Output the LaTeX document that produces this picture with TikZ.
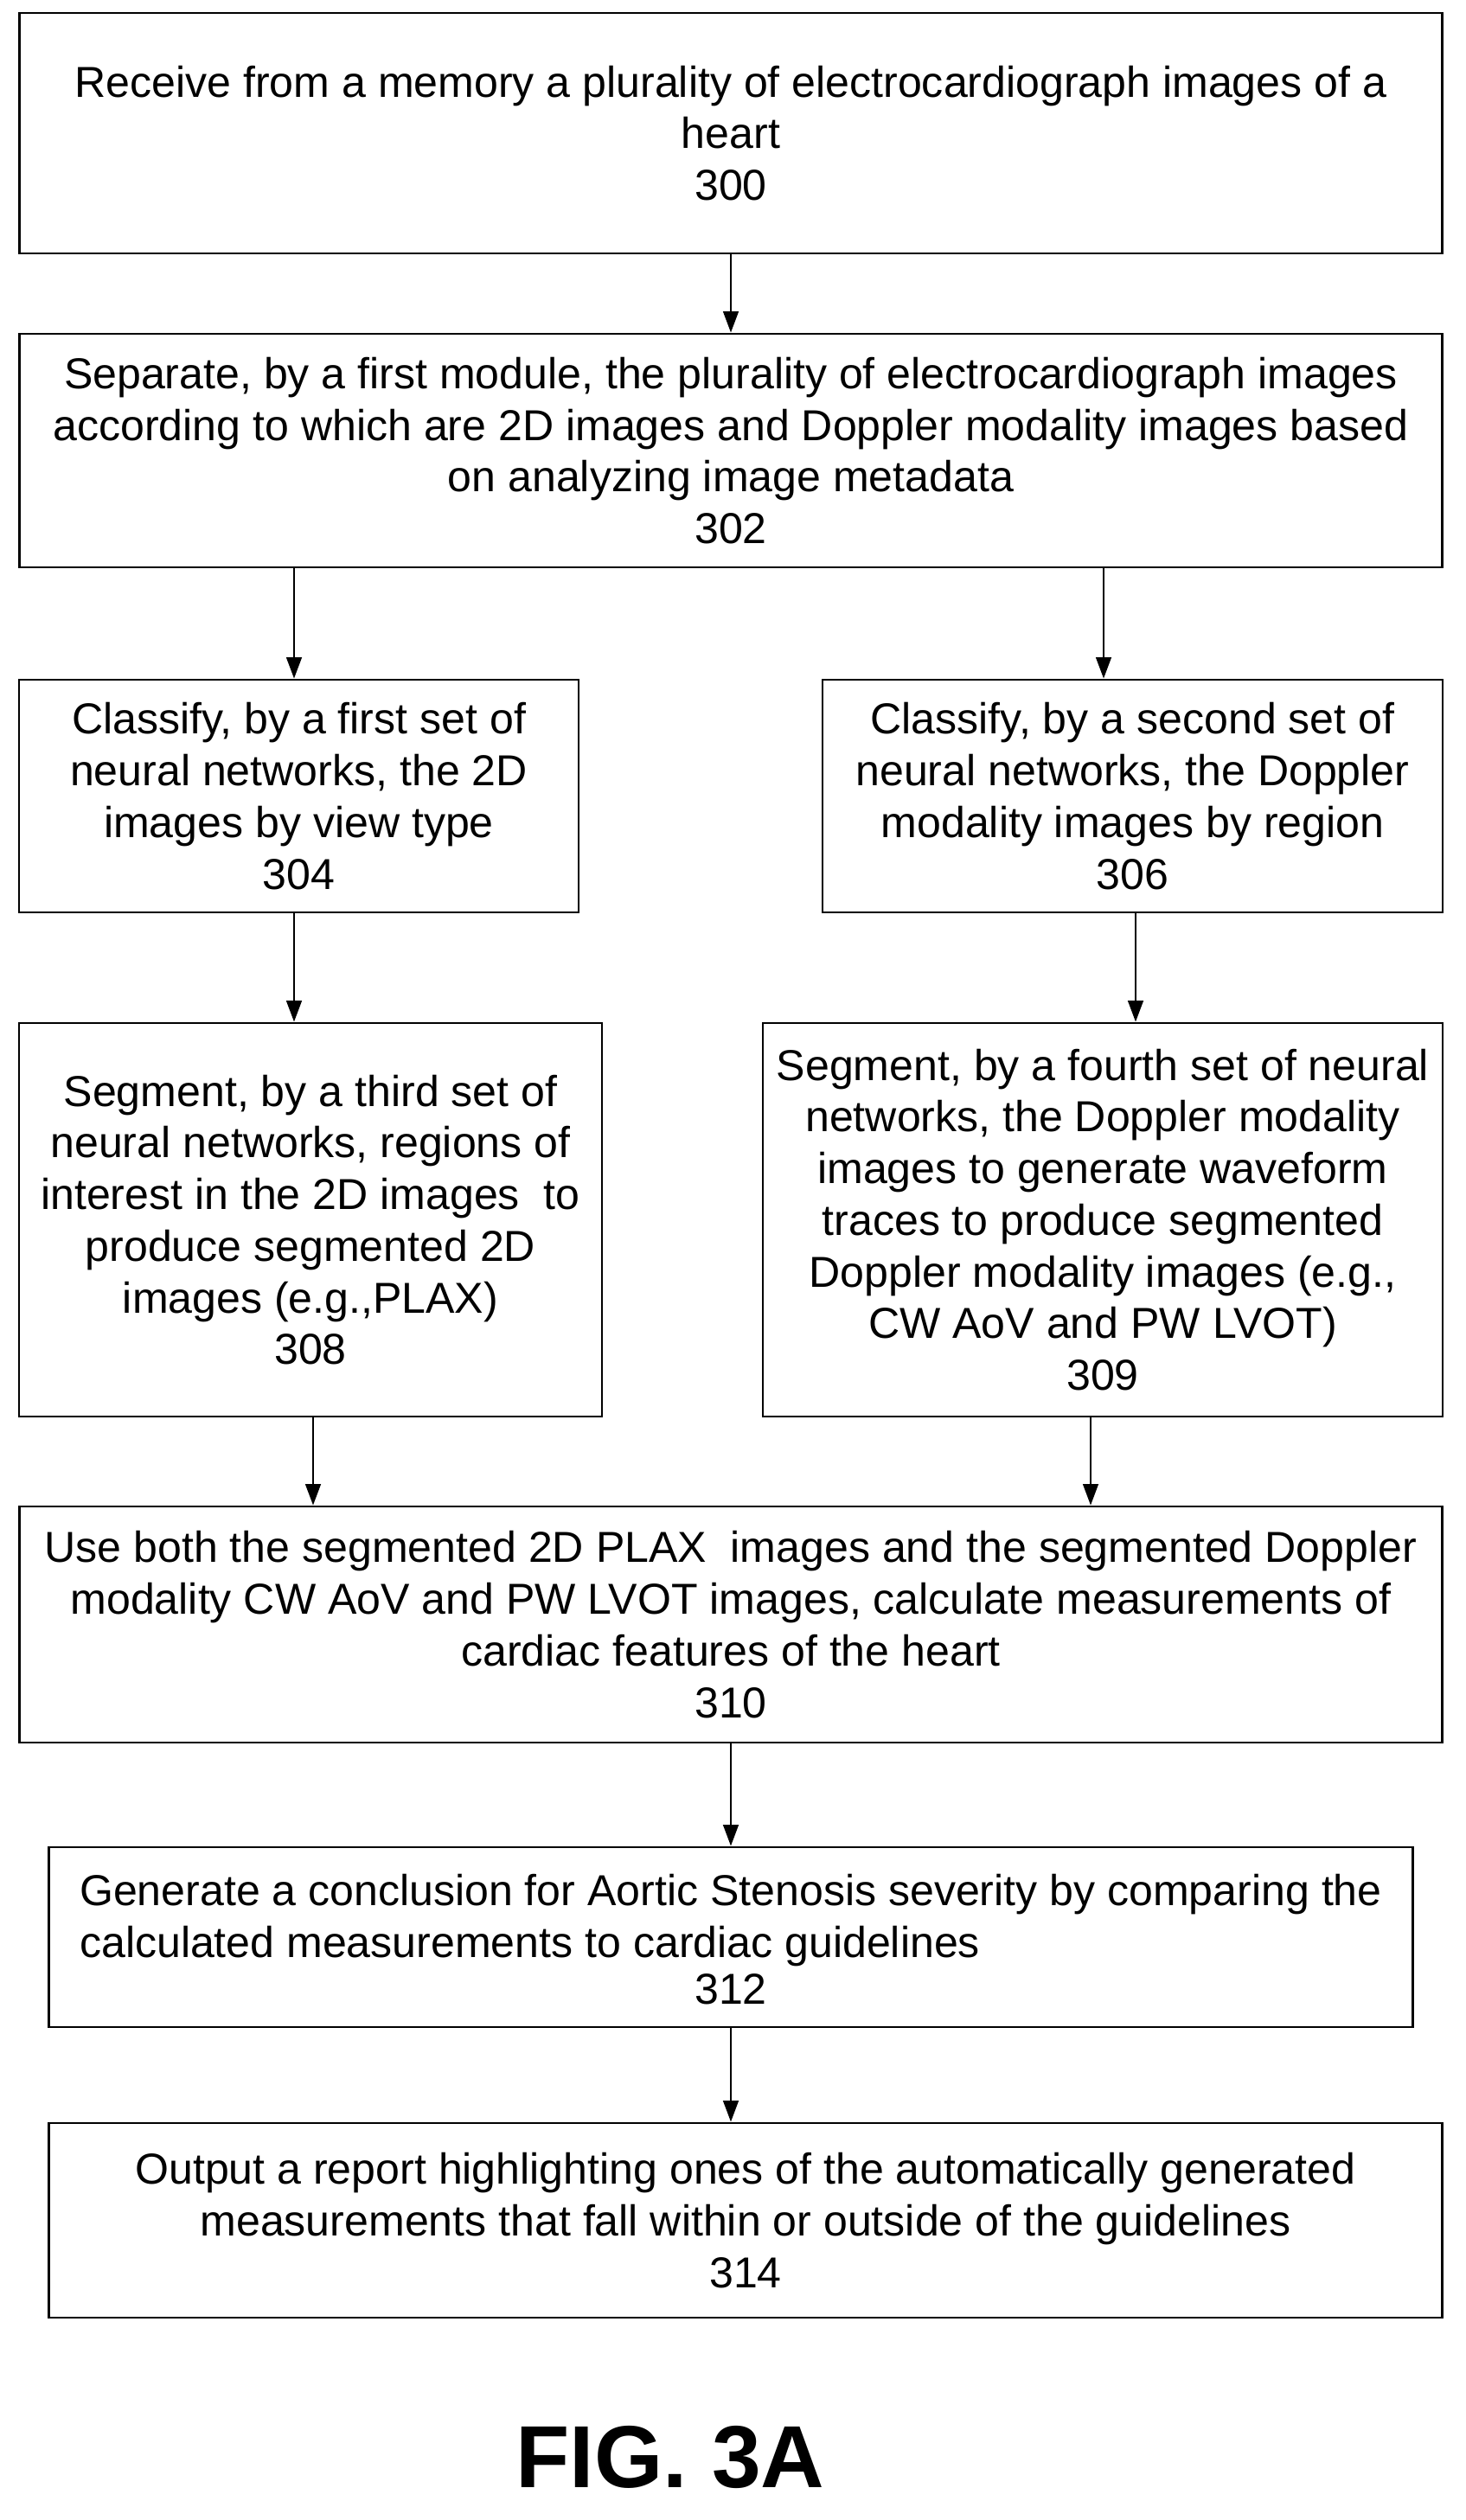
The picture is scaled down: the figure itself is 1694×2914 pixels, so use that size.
\documentclass[tikz,border=0pt]{standalone}
\usepackage{fontspec}
\setmainfont{Liberation Sans}
\usetikzlibrary{arrows.meta}
\begin{document}
\begin{tikzpicture}[x=0.02cm,y=0.02cm,
 box/.style={draw,line width=1.6pt,align=center,inner sep=0pt,font=\fontsize{28.5}{34}\selectfont},
 arr/.style={-{Triangle[length=14pt,width=10pt]},line width=1.6pt}]
\useasboundingbox (0,0) rectangle (1694,-2914);
\node[box,minimum width=32.92cm,minimum height=5.56cm] (n300) at (845,-154) {Receive from a memory a plurality of electrocardiograph images of a\\heart\\300};
\node[box,minimum width=32.92cm,minimum height=5.4cm] (n302) at (845,-521) {Separate, by a first module, the plurality of electrocardiograph images\\according to which are 2D images and Doppler modality images based\\on analyzing image metadata\\302};
\node[box,minimum width=12.94cm,minimum height=5.38cm] (n304) at (345.5,-920.5) {Classify, by a first set of\\neural networks, the 2D\\images by view type\\304};
\node[box,minimum width=14.34cm,minimum height=5.38cm] (n306) at (1309.5,-920.5) {Classify, by a second set of\\neural networks, the Doppler\\modality images by region\\306};
\node[box,minimum width=13.48cm,minimum height=9.1cm] (n308) at (359,-1410.5) {Segment, by a third set of\\neural networks, regions of\\interest in the 2D images\ \ to\\produce segmented 2D\\images (e.g.,PLAX)\\308};
\node[box,minimum width=15.72cm,minimum height=9.1cm] (n309) at (1275,-1410.5) {Segment, by a fourth set of neural\\networks, the Doppler modality\\images to generate waveform\\traces to produce segmented\\Doppler modality images (e.g.,\\CW AoV and PW LVOT)\\309};
\node[box,minimum width=32.92cm,minimum height=5.46cm] (n310) at (845,-1878.5) {Use both the segmented 2D PLAX\ \ images and the segmented Doppler\\modality CW AoV and PW LVOT images, calculate measurements of\\cardiac features of the heart\\310};
\node[box,minimum width=31.56cm,minimum height=4.16cm] (n312) at (845,-2240) {\begin{tabular}{@{}l@{}}Generate a conclusion for Aortic Stenosis severity by comparing the\\calculated measurements to cardiac guidelines\end{tabular}\\312};
\node[box,minimum width=32.24cm,minimum height=4.5cm] (n314) at (862,-2567.5) {Output a report highlighting ones of the automatically generated\\measurements that fall within or outside of the guidelines\\314};
\node[font=\fontsize{58}{64}\selectfont\bfseries] (fig) at (775,-2841) {FIG. 3A};
\coordinate (xa) at (845,0);
\coordinate (xb) at (340,0);
\coordinate (xc) at (1276,0);
\coordinate (xd) at (1313,0);
\coordinate (xe) at (362,0);
\coordinate (xf) at (1261,0);
\draw[arr] (n300.south -| xa) -- (n302.north -| xa);
\draw[arr] (n302.south -| xb) -- (n304.north -| xb);
\draw[arr] (n302.south -| xc) -- (n306.north -| xc);
\draw[arr] (n304.south -| xb) -- (n308.north -| xb);
\draw[arr] (n306.south -| xd) -- (n309.north -| xd);
\draw[arr] (n308.south -| xe) -- (n310.north -| xe);
\draw[arr] (n309.south -| xf) -- (n310.north -| xf);
\draw[arr] (n310.south -| xa) -- (n312.north -| xa);
\draw[arr] (n312.south -| xa) -- (n314.north -| xa);
\end{tikzpicture}
\end{document}
